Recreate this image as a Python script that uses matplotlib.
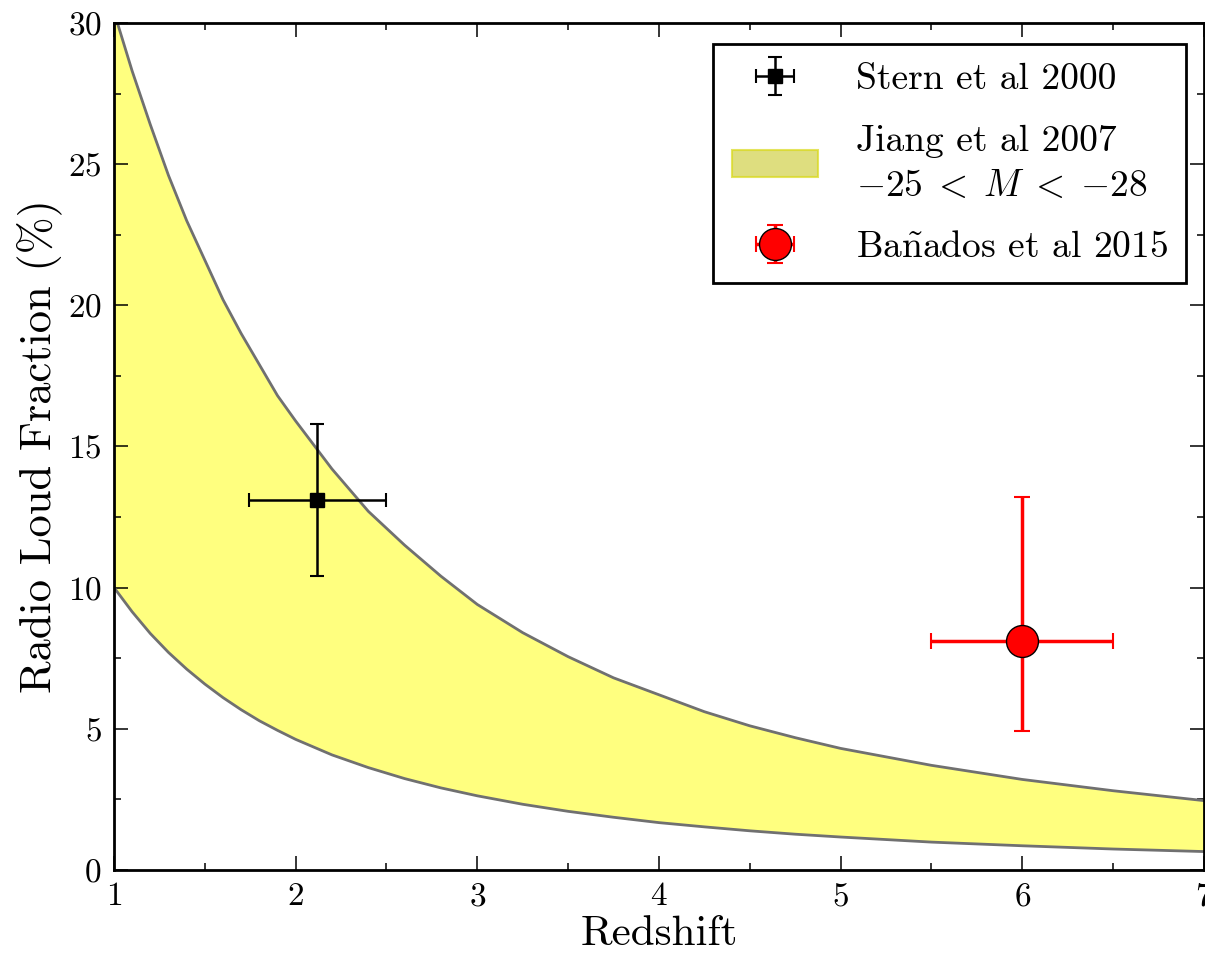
import matplotlib
matplotlib.use("Agg")
import matplotlib.pyplot as plt
from matplotlib import rcParams
from matplotlib.patches import Rectangle
from matplotlib.ticker import MultipleLocator

# Computer Modern look
rcParams['font.family'] = 'serif'
rcParams['font.serif'] = ['cmr10']
rcParams['mathtext.fontset'] = 'cm'
rcParams['axes.formatter.use_mathtext'] = True
rcParams['axes.unicode_minus'] = False

# Jiang et al 2007 band
band_z = [1.0, 1.1, 1.2, 1.3, 1.4, 1.5, 1.6, 1.7, 1.8, 1.9, 2.0, 2.2, 2.4,
          2.6, 2.8, 3.0, 3.25, 3.5, 3.75, 4.0, 4.25, 4.5, 4.75, 5.0, 5.5,
          6.0, 6.5, 7.0]
band_upper = [30.4, 28.3, 26.4, 24.6, 23.0, 21.6, 20.2, 19.0, 17.9, 16.8,
              15.9, 14.2, 12.7, 11.5, 10.4, 9.4, 8.4, 7.55, 6.8, 6.2, 5.6,
              5.1, 4.68, 4.3, 3.7, 3.2, 2.8, 2.45]
band_lower = [10.0, 9.14, 8.37, 7.70, 7.11, 6.58, 6.10, 5.67, 5.28, 4.94,
              4.62, 4.07, 3.62, 3.23, 2.90, 2.62, 2.32, 2.07, 1.86, 1.67,
              1.52, 1.38, 1.26, 1.16, 0.98, 0.85, 0.735, 0.645]

# Stern et al 2000
stern_z = [2.12]
stern_f = [13.1]
stern_zerr = [0.375]
stern_ferr = [2.7]

# Banados et al 2015
ban_z = [6.0]
ban_f = [8.1]
ban_zerr = [0.5]
ban_ferr_lo = [3.2]
ban_ferr_hi = [5.1]

fig = plt.figure(figsize=(12.05, 9.6), dpi=100)
ax = fig.add_axes([0.0946, 0.094, 0.9045, 0.882])

ax.fill_between(band_z, band_lower, band_upper, color='yellow', alpha=0.5,
                linewidth=0, zorder=1)
ax.plot(band_z, band_upper, color='#707070', lw=2, zorder=2)
ax.plot(band_z, band_lower, color='#707070', lw=2, zorder=2)

h_stern = ax.errorbar(stern_z, stern_f, xerr=stern_zerr, yerr=stern_ferr,
                      fmt='s', color='black', ms=10, elinewidth=1.8,
                      capsize=5, capthick=1.5, zorder=4)
h_ban = ax.errorbar(ban_z, ban_f, xerr=ban_zerr,
                    yerr=[ban_ferr_lo, ban_ferr_hi], fmt='o', color='red',
                    mfc='red', mec='black', ms=23, elinewidth=2.5,
                    capsize=6, capthick=1.5, zorder=4)

h_band = Rectangle((0, 0), 1, 1, facecolor=(0.75, 0.75, 0.0, 0.5),
                   edgecolor=(0.85, 0.85, 0.1, 0.7), linewidth=1.5)

ax.set_xlim(1, 7)
ax.set_ylim(0, 30)
ax.xaxis.set_major_locator(MultipleLocator(1))
ax.xaxis.set_minor_locator(MultipleLocator(0.5))
ax.yaxis.set_major_locator(MultipleLocator(5))
ax.yaxis.set_minor_locator(MultipleLocator(2.5))
ax.tick_params(which='both', direction='in', top=True, right=True,
               labelsize=24, width=1.1)
ax.tick_params(which='major', length=10, pad=9)
ax.tick_params(which='minor', length=5)
for sp in ax.spines.values():
    sp.set_linewidth(2)

ax.set_xlabel('Redshift', fontsize=31, labelpad=3)
ax.set_ylabel('Radio Loud Fraction (%)', fontsize=32, labelpad=4)

leg = ax.legend([h_stern, h_band, h_ban],
                ['Stern et al 2000', 'Jiang et al 2007\n$-25 \\;<\\; M \\;<\\; {-28}$',
                 r'Ba$\tilde{\mathrm{n}}$ados et al 2015'],
                loc='upper right', fontsize=27, numpoints=1, fancybox=False,
                frameon=True, borderaxespad=0, handlelength=2.3,
                borderpad=0.5, labelspacing=0.75, handletextpad=1.0,
                bbox_to_anchor=(0.984, 0.975))
leg.get_texts()[1].set_linespacing(1.45)
leg.get_frame().set_edgecolor('black')
leg.get_frame().set_linewidth(2)
leg.get_frame().set_alpha(1)

fig.savefig('out.png', dpi=100)
